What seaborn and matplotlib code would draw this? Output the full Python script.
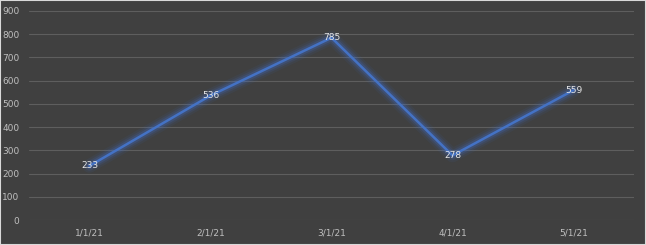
import matplotlib
matplotlib.use("Agg")
import matplotlib.pyplot as plt
import seaborn as sns
import pandas as pd
from matplotlib.patches import Rectangle

dates = ["1/1/21", "2/1/21", "3/1/21", "4/1/21", "5/1/21"]
values = [233, 536, 785, 278, 559]
yticks = [0, 100, 200, 300, 400, 500, 600, 700, 800, 900]

df = pd.DataFrame({"date": dates, "value": values})

sns.set_theme(style="dark")
plt.rcParams['font.family'] = ['DejaVu Sans']

bg = "#404040"
fig = plt.figure(figsize=(6.46, 2.45), dpi=100, facecolor=bg)
ax = fig.add_axes([29/646, 1-220/245, 605/646, 209/245])
ax.set_facecolor(bg)

# glow
for lw, a in [(10, 0.07), (7, 0.12), (4.5, 0.22)]:
    sns.lineplot(data=df, x="date", y="value", ax=ax, color="#3f6fd0",
                 linewidth=lw, alpha=a, sort=False, solid_capstyle="round")
sns.lineplot(data=df, x="date", y="value", ax=ax, color="#4472C4",
             linewidth=1.8, sort=False)

for i, v in enumerate(values):
    ax.text(i, v, str(v), ha="center", va="center", color="#e6e6e6", fontsize=6.5)

ax.set_xlim(-0.5, 4.5)
ax.set_ylim(0, 900)
ax.set_yticks(yticks)
ax.grid(axis="y", color="#5e5e5e", linewidth=0.8)
ax.grid(axis="x", visible=False)
ax.set_axisbelow(True)
for s in ax.spines.values():
    s.set_visible(False)
ax.tick_params(axis="both", colors="#bfbfbf", labelsize=6.5, length=0)
ax.tick_params(axis="y", pad=7)
ax.tick_params(axis="x", pad=6)
ax.set_xlabel("")
ax.set_ylabel("")

fig.patches.append(Rectangle((0, 0), 1, 1, transform=fig.transFigure,
                             fill=False, edgecolor="#d9d9d9", linewidth=1.5))
fig.savefig("out.png", dpi=100, facecolor=bg)
